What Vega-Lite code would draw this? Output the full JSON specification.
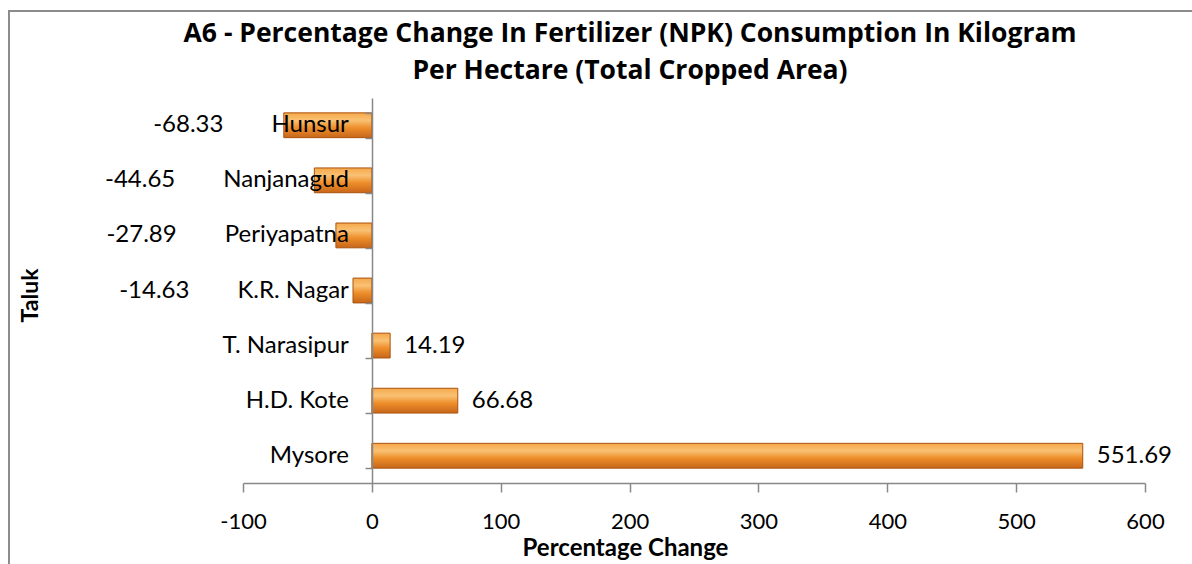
{
  "$schema": "https://vega.github.io/schema/vega-lite/v6.json",
  "width": 902,
  "height": 385,
  "autosize": {"type": "none"},
  "padding": {"left": 243, "top": 98, "right": 47, "bottom": 81},
  "background": "white",
  "config": {
    "font": "Lato",
    "view": {"stroke": null},
    "locale": {
      "number": {
        "decimal": ".",
        "thousands": ",",
        "grouping": [3],
        "currency": ["$", ""],
        "minus": "-"
      }
    }
  },
  "title": {
    "text": ["A6 - Percentage Change In Fertilizer (NPK) Consumption In Kilogram", "Per Hectare (Total Cropped Area)"],
    "font": "Open Sans",
    "fontSize": 26.5,
    "fontWeight": "bold",
    "color": "#000000",
    "anchor": "middle",
    "frame": "group",
    "dx": -64,
    "offset": -74,
    "lineHeight": 37
  },
  "data": {
    "values": [
      {"taluk": "Hunsur", "change": -68.33},
      {"taluk": "Nanjanagud", "change": -44.65},
      {"taluk": "Periyapatna", "change": -27.89},
      {"taluk": "K.R. Nagar", "change": -14.63},
      {"taluk": "T. Narasipur", "change": 14.19},
      {"taluk": "H.D. Kote", "change": 66.68},
      {"taluk": "Mysore", "change": 551.69}
    ]
  },
  "layer": [
    {
      "mark": {
        "type": "rect",
        "fill": null,
        "stroke": "#8c8c8c",
        "strokeWidth": 2,
        "clip": false
      },
      "encoding": {
        "x": {"value": -234},
        "x2": {"value": 980},
        "y": {"value": -87},
        "y2": {"value": 520}
      }
    },
    {
      "mark": {
        "type": "bar",
        "fill": {
          "gradient": "linear",
          "x1": 0, "y1": 0, "x2": 0, "y2": 1,
          "stops": [
            {"offset": 0, "color": "#F6A84A"},
            {"offset": 0.3, "color": "#F9C173"},
            {"offset": 0.6, "color": "#EE8E2A"},
            {"offset": 1, "color": "#C7661A"}
          ]
        },
        "stroke": "#A9520E",
        "strokeWidth": 1
      },
      "encoding": {
        "y": {
          "field": "taluk",
          "type": "nominal",
          "sort": null,
          "scale": {"paddingInner": 0.55, "paddingOuter": 0.27},
          "axis": {
            "offset": -129,
            "zindex": 1,
            "tickBand": "extent",
            "labels": false,
            "domainColor": "#888888",
            "domainWidth": 1.5,
            "tickColor": "#888888",
            "tickWidth": 1.5,
            "tickSize": 7,
            "title": "Taluk",
            "titleFontSize": 23,
            "titleFontWeight": "bold",
            "titleColor": "#000000",
            "titleAngle": -90,
            "titleX": -342,
            "titleY": 197,
            "titleAlign": "center",
            "titleBaseline": "middle"
          }
        },
        "x": {
          "field": "change",
          "type": "quantitative",
          "scale": {"domain": [-100, 600], "nice": false, "zero": false},
          "axis": {
            "values": [-100, 0, 100, 200, 300, 400, 500, 600],
            "grid": false,
            "domainColor": "#888888",
            "domainWidth": 1.5,
            "tickColor": "#888888",
            "tickWidth": 1.5,
            "tickSize": 9,
            "labelFontSize": 22,
            "labelColor": "#000000",
            "labelPadding": 19,
            "labelFont": "Lato",
            "labelFlush": false,
            "labelOverlap": false,
            "title": "Percentage Change",
            "titleFontSize": 24,
            "titleFontWeight": "bold",
            "titleColor": "#000000",
            "titleX": 382,
            "titleY": 72,
            "titleAlign": "center",
            "titleBaseline": "alphabetic"
          }
        }
      }
    },
    {
      "transform": [
        {"calculate": "(datum.change < 0 ? format(datum.change, '.2f') + '\u2003\u2003\u2002' : '') + datum.taluk", "as": "rowLabel"}
      ],
      "mark": {"type": "text", "align": "right", "baseline": "middle", "dx": -23, "fontSize": 24, "color": "#000000"},
      "encoding": {
        "y": {"field": "taluk", "type": "nominal", "sort": null},
        "x": {"datum": 0, "type": "quantitative"},
        "text": {"field": "rowLabel", "type": "nominal"}
      }
    },
    {
      "transform": [{"filter": "datum.change >= 0"}],
      "mark": {"type": "text", "align": "left", "baseline": "middle", "dx": 14, "fontSize": 24, "color": "#000000"},
      "encoding": {
        "y": {"field": "taluk", "type": "nominal", "sort": null},
        "x": {"field": "change", "type": "quantitative"},
        "text": {"field": "change", "type": "quantitative", "format": ".2f"}
      }
    }
  ]
}
